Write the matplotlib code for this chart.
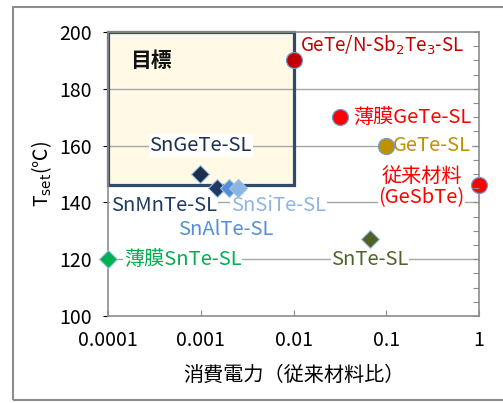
import matplotlib.pyplot as plt
from matplotlib.patches import Rectangle
from matplotlib.ticker import FixedLocator, MultipleLocator, NullFormatter

plt.rcParams['font.family'] = ['Noto Sans CJK JP', 'DejaVu Sans']

# データ (消費電力は従来材料比, Tset は ℃)
circ_names = ['GeTe/N-Sb$_2$Te$_3$-SL', '薄膜GeTe-SL', 'GeTe-SL', '従来材料\n(GeSbTe)']
circ_power = [0.01, 0.032, 0.1, 1.0]
circ_tset = [190, 170, 160, 146]
circ_colors = ['#C00000', '#FF0000', '#BF9000', '#FF0000']

dia_names = ['SnGeTe-SL', 'SnMnTe-SL', 'SnAlTe-SL', 'SnSiTe-SL', 'SnTe-SL', '薄膜SnTe-SL']
dia_power = [0.00098, 0.0015, 0.002, 0.0025, 0.067, 0.0001]
dia_tset = [150, 145, 145, 145, 127, 120]
dia_colors = ['#1B2F4E', '#1F3864', '#558ED5', '#8EB4E3', '#4F6228', '#00B050']

target_power = (0.0001, 0.01)
target_tset = (146, 200)

xticks = [0.0001, 0.001, 0.01, 0.1, 1]
xticklabels = ['0.0001', '0.001', '0.01', '0.1', '1']
yticks = [100, 120, 140, 160, 180, 200]

fig = plt.figure(figsize=(5.03, 4.03), dpi=100)
fig.patches.append(Rectangle((13 / 503, 3 / 403), 1.0, 1 - 10 / 403, transform=fig.transFigure,
                             fill=False, edgecolor='#8C8C8C', linewidth=1.5))
ax = fig.add_axes([108 / 503, 1 - 316 / 403, 371 / 503, 284 / 403])
ax.set_xscale('log')
ax.set_xlim(0.0001, 1)
ax.set_ylim(100, 200)

# 目標 box
ax.add_patch(Rectangle((target_power[0], target_tset[0]), target_power[1] - target_power[0],
                       target_tset[1] - target_tset[0], facecolor='#FFF9E6', edgecolor='none', zorder=0.5))
ax.add_patch(Rectangle((target_power[0], target_tset[0]), target_power[1] - target_power[0],
                       target_tset[1] - target_tset[0], fill=False, edgecolor='#2F4B6E',
                       linewidth=2.3, zorder=2, clip_on=False))

for y in yticks[1:-1]:
    ax.axhline(y, color='#A6A6A6', linewidth=1.0, zorder=1)

for x, y, c in zip(dia_power, dia_tset, dia_colors):
    ax.plot(x, y, marker='D', markersize=9.5, color=c, markeredgecolor='#9DC3E6',
            markeredgewidth=0.8, linestyle='none', zorder=4, clip_on=False)
for x, y, c in zip(circ_power, circ_tset, circ_colors):
    ax.plot(x, y, marker='o', markersize=11.5, color=c, markeredgecolor='#6E9AD0',
            markeredgewidth=0.9, linestyle='none', zorder=5, clip_on=False)

box = dict(facecolor='white', edgecolor='none', pad=0.5)
fs = 14.5
ax.text(0.0118, 195.4, circ_names[0], color=circ_colors[0], fontsize=13.5, ha='left', va='center', bbox=box, zorder=3)
ax.text(0.044, 170, circ_names[1], color=circ_colors[1], fontsize=fs, ha='left', va='center', bbox=box, zorder=3)
ax.text(0.118, 160, circ_names[2], color=circ_colors[2], fontsize=fs, ha='left', va='center', bbox=box, zorder=3)
ax.text(0.70, 145.3, circ_names[3], color=circ_colors[3], fontsize=fs, ha='right', va='center',
        multialignment='center', linespacing=1.0, bbox=box, zorder=3)

ax.text(0.001, 160, dia_names[0], color=dia_colors[0], fontsize=fs, ha='center', va='center', bbox=box, zorder=3)
ax.text(0.000108, 139, dia_names[1], color=dia_colors[1], fontsize=fs, ha='left', va='center', bbox=box, zorder=3)
ax.text(0.00057, 130.6, dia_names[2], color=dia_colors[2], fontsize=fs, ha='left', va='center', bbox=box, zorder=3)
ax.text(0.00212, 139, dia_names[3], color=dia_colors[3], fontsize=fs, ha='left', va='center', bbox=box, zorder=3)
ax.text(0.0668, 120, dia_names[4], color=dia_colors[4], fontsize=fs, ha='center', va='center', bbox=box, zorder=3)
ax.text(0.000148, 120, dia_names[5], color=dia_colors[5], fontsize=fs, ha='left', va='center', bbox=box, zorder=3)

ax.text(0.000173, 190, '目標', color='#111111', fontsize=15, fontweight='bold', ha='left', va='center', zorder=3)

# axes styling
for side in ['left', 'bottom', 'top', 'right']:
    ax.spines[side].set_color('#8C8C8C')
    ax.spines[side].set_linewidth(1.2)
ax.xaxis.set_major_locator(FixedLocator(xticks))
ax.set_xticklabels(xticklabels)
ax.xaxis.set_minor_locator(FixedLocator([]))
ax.xaxis.set_minor_formatter(NullFormatter())
ax.set_yticks(yticks)
ax.tick_params(axis='x', direction='in', length=4, color='#8C8C8C', labelsize=14, pad=10)
ax.tick_params(axis='y', left=False, labelsize=14, pad=8)

ax2 = ax.twinx()
ax2.set_ylim(100, 200)
ax2.yaxis.set_major_locator(MultipleLocator(5))
ax2.tick_params(axis='y', direction='in', length=4, color='#8C8C8C', labelright=False)
for side in ['left', 'bottom', 'top', 'right']:
    ax2.spines[side].set_visible(False)

ax.set_xlabel('消費電力（従来材料比）', fontsize=14.5, labelpad=10)
ax.set_ylabel('T$_{\\rm set}$(℃)', fontsize=14, labelpad=4)

fig.savefig('out.png', dpi=100)
